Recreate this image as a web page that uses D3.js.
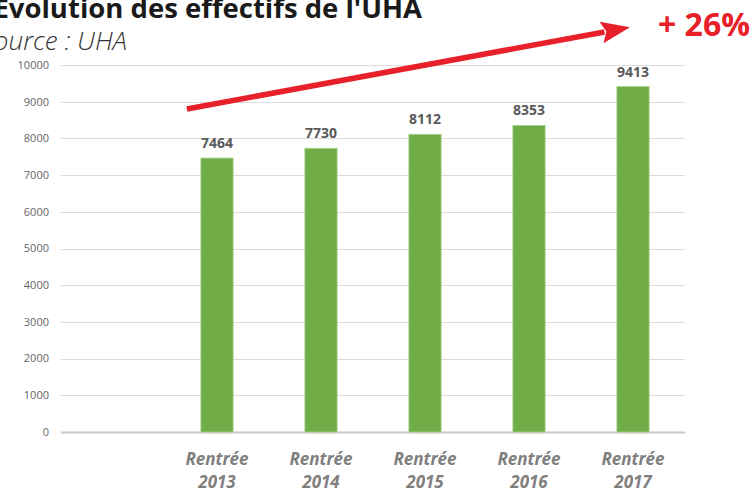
<!DOCTYPE html>
<html>
<head>
<meta charset="utf-8">
<script src="https://cdn.jsdelivr.net/npm/d3@7"></script>
<style>
  body { margin: 0; background: #fff; }
  svg { display: block; }
</style>
</head>
<body>
<div id="chart"></div>
<script>
// data
const categories = ["", "2013", "2014", "2015", "2016", "2017"];
const values = [null, 7464, 7730, 8112, 8353, 9413];
const yTicks = [0, 1000, 2000, 3000, 4000, 5000, 6000, 7000, 8000, 9000, 10000];
const growthLabel = "+ 26%";

const width = 751, height = 490;
const plot = {left: 61, right: 685, top: 65, bottom: 432};

const svg = d3.select("#chart").append("svg")
    .attr("width", width)
    .attr("height", height)
    .attr("font-family", "'Open Sans', sans-serif");

const x = d3.scaleBand()
    .domain(categories)
    .range([plot.left, plot.right])
    .paddingInner(0.69)
    .paddingOuter(0.345);

const y = d3.scaleLinear()
    .domain([0, 10000])
    .range([plot.bottom, plot.top]);

// grid lines
svg.append("g")
  .selectAll("line")
  .data(yTicks)
  .join("line")
    .attr("x1", plot.left)
    .attr("x2", plot.right)
    .attr("y1", d => Math.round(y(d)) + 0.5)
    .attr("y2", d => Math.round(y(d)) + 0.5)
    .attr("stroke", d => d === 0 ? "#c8c8c8" : "#dcdcdc")
    .attr("stroke-width", d => d === 0 ? 2 : 1);

// y tick labels
svg.append("g")
    .attr("text-anchor", "end")
    .attr("font-size", 11)
    .attr("fill", "#666")
  .selectAll("text")
  .data(yTicks)
  .join("text")
    .attr("x", 49)
    .attr("y", d => y(d))
    .attr("dy", "0.35em")
    .text(d => d);

const data = categories.map((c, i) => ({c, v: values[i]})).filter(d => d.v != null);

// bars
svg.append("g")
  .selectAll("rect")
  .data(data)
  .join("rect")
    .attr("x", d => x(d.c))
    .attr("y", d => y(d.v))
    .attr("width", x.bandwidth())
    .attr("height", d => y(0) - y(d.v))
    .attr("fill", "#70ad47")
    .attr("stroke", "#a6d48c")
    .attr("stroke-width", 0.8);

// value labels
svg.append("g")
    .attr("text-anchor", "middle")
    .attr("font-size", 14)
    .attr("font-weight", "bold")
    .attr("fill", "#595959")
  .selectAll("text")
  .data(data)
  .join("text")
    .attr("x", d => x(d.c) + x.bandwidth() / 2)
    .attr("y", d => y(d.v) - 10)
    .text(d => d.v);

// x labels
const xl = svg.append("g")
    .attr("text-anchor", "middle")
    .attr("font-size", 17)
    .attr("font-weight", "bold")
    .attr("font-style", "italic")
    .attr("fill", "#7f7f7f")
  .selectAll("text")
  .data(data)
  .join("text")
    .attr("x", d => x(d.c) + x.bandwidth() / 2)
    .attr("y", 465);
xl.append("tspan").text("Rentrée");
xl.append("tspan")
    .attr("x", d => x(d.c) + x.bandwidth() / 2)
    .attr("y", 488)
    .text(d => d.c);

// title and source
svg.append("text")
    .attr("x", 422)
    .attr("y", 18)
    .attr("text-anchor", "end")
    .attr("font-size", 27.5)
    .attr("font-weight", "bold")
    .attr("fill", "#1a1a1a")
    .text("Évolution des effectifs de l'UHA");

svg.append("text")
    .attr("x", 127)
    .attr("y", 50)
    .attr("text-anchor", "end")
    .attr("font-size", 26)
    .attr("font-style", "italic")
    .attr("font-weight", 300)
    .attr("fill", "#333")
    .text("Source : UHA");

// growth arrow
const first = data[0], last = data[data.length - 1];
const x0 = x(first.c) - 14, y0 = y(8800);
const x1 = x(last.c) + x.bandwidth() / 2 - 3, y1 = y(11030);
const ang = Math.atan2(y1 - y0, x1 - x0);
const headLen = 29, headHalf = 11;
const bx = x1 - headLen * Math.cos(ang), by = y1 - headLen * Math.sin(ang);
const nx = -Math.sin(ang), ny = Math.cos(ang);

svg.append("line")
    .attr("x1", x0).attr("y1", y0)
    .attr("x2", bx + 3 * Math.cos(ang)).attr("y2", by + 3 * Math.sin(ang))
    .attr("stroke", "#e8202a")
    .attr("stroke-width", 5.5);

svg.append("path")
    .attr("d", `M${x1},${y1}L${bx + nx * headHalf},${by + ny * headHalf}` +
      `L${bx + 5 * Math.cos(ang)},${by + 5 * Math.sin(ang)}` +
      `L${bx - nx * headHalf},${by - ny * headHalf}Z`)
    .attr("fill", "#e8202a");

svg.append("text")
    .attr("x", 750)
    .attr("y", 36)
    .attr("text-anchor", "end")
    .attr("font-size", 32)
    .attr("font-weight", "bold")
    .attr("fill", "#e8202a")
    .text(growthLabel);
</script>
</body>
</html>
